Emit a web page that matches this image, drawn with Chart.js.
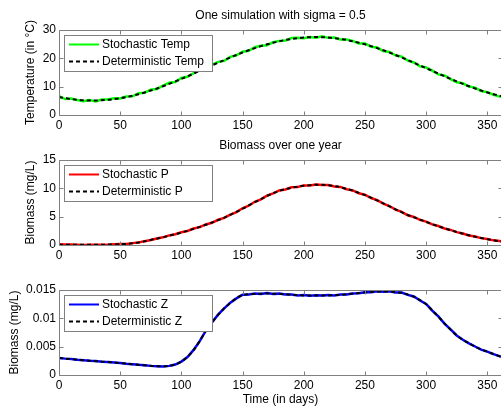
<!DOCTYPE html>
<html>
<head>
<meta charset="utf-8">
<script src="https://cdn.jsdelivr.net/npm/chart.js@4"></script>
<style>
  html, body { margin: 0; padding: 0; background: #fff; }
  body { width: 501px; height: 410px; overflow: hidden; position: relative; }
  canvas { position: absolute; left: 0; }
</style>
</head>
<body>
<canvas id="tempChart" width="505" height="140" style="top:0px"></canvas>
<canvas id="pChart" width="505" height="140" style="top:130px"></canvas>
<canvas id="zChart" width="505" height="150" style="top:260px"></canvas>
<script>
// days (every 5 days)
const days = [0,5,10,15,20,25,30,35,40,45,50,55,60,65,70,75,80,85,90,95,
  100,105,110,115,120,125,130,135,140,145,150,155,160,165,170,175,180,185,190,195,
  200,205,210,215,220,225,230,235,240,245,250,255,260,265,270,275,280,285,290,295,
  300,305,310,315,320,325,330,335,340,345,350,355,360,365];

const tempDet = [6.35,5.93,5.60,5.36,5.19,5.11,5.11,5.19,5.36,5.60,
  5.93,6.33,6.80,7.35,7.97,8.64,9.37,10.15,10.98,11.85,
  12.75,13.68,14.63,15.58,16.55,17.50,18.45,19.39,20.31,21.19,
  22.05,22.85,23.60,24.31,24.95,25.53,26.04,26.48,26.84,27.13,
  27.33,27.46,27.50,27.46,27.33,27.13,26.84,26.48,26.04,25.53,
  24.95,24.31,23.60,22.85,22.05,21.19,20.31,19.39,18.45,17.50,
  16.55,15.58,14.63,13.68,12.75,11.85,10.98,10.15,9.37,8.64,
  7.97,7.35,6.80,6.33];
const tempSto = [6.65,5.63,5.80,5.26,4.89,5.31,4.81,5.49,5.46,5.90,
  5.83,6.53,6.60,7.65,7.87,8.94,9.17,10.35,11.38,11.65,
  13.05,13.48,14.73,15.98,16.25,17.70,18.75,19.09,20.51,21.09,
  22.35,22.65,23.90,24.41,24.65,25.73,26.14,26.28,27.14,27.23,
  27.13,27.56,27.30,27.76,27.23,27.33,26.64,26.68,26.14,25.23,
  25.25,24.11,23.80,22.55,22.25,21.09,20.61,19.19,18.55,17.20,
  16.75,15.68,14.33,13.98,12.65,11.55,11.18,10.05,9.67,8.44,
  8.07,7.15,6.50,6.53];

const pDet = [0.05,0.04,0.03,0.03,0.03,0.03,0.04,0.05,0.07,0.10,
  0.14,0.20,0.30,0.45,0.65,0.90,1.12,1.38,1.65,1.92,
  2.20,2.52,2.85,3.20,3.57,3.97,4.38,4.82,5.30,5.85,
  6.40,6.98,7.55,8.10,8.65,9.15,9.55,9.85,10.10,10.30,
  10.45,10.55,10.62,10.62,10.55,10.40,10.18,9.90,9.58,9.20,
  8.80,8.35,7.85,7.35,6.82,6.30,5.80,5.30,4.90,4.48,
  4.08,3.68,3.30,2.95,2.62,2.30,2.00,1.72,1.47,1.24,
  1.03,0.84,0.66,0.52];
const pSto = [0.12,0.08,0.10,0.05,0.02,0.03,0.05,0.04,0.06,0.12,
  0.16,0.18,0.33,0.43,0.68,0.87,1.16,1.35,1.69,1.90,
  2.25,2.48,2.91,3.16,3.63,3.92,4.45,4.78,5.37,5.80,
  6.48,6.93,7.62,8.05,8.72,9.10,9.62,9.80,10.18,10.24,
  10.52,10.49,10.68,10.57,10.60,10.33,10.25,9.84,9.64,9.14,
  8.88,8.29,7.91,7.30,6.88,6.24,5.86,5.25,4.95,4.43,
  4.13,3.64,3.35,2.91,2.66,2.27,2.04,1.69,1.50,1.21,
  1.06,0.82,0.69,0.50];

const zDet = [0.00300,0.00290,0.00280,0.00270,0.00260,0.00252,0.00244,0.00236,0.00228,0.00220,
  0.00210,0.00200,0.00190,0.00180,0.00170,0.00162,0.00155,0.00153,0.00160,0.00185,
  0.00235,0.00320,0.00440,0.00600,0.00780,0.00930,0.01060,0.01180,0.01270,0.01360,
  0.01410,0.01425,0.01430,0.01435,0.01440,0.01435,0.01430,0.01425,0.01415,0.01410,
  0.01405,0.01405,0.01405,0.01405,0.01405,0.01410,0.01415,0.01425,0.01435,0.01445,
  0.01455,0.01465,0.01470,0.01475,0.01470,0.01460,0.01450,0.01420,0.01380,0.01320,
  0.01250,0.01140,0.01030,0.00910,0.00800,0.00700,0.00620,0.00560,0.00500,0.00450,
  0.00410,0.00370,0.00330,0.00300];
const zSto = [0.00302,0.00289,0.00281,0.00268,0.00261,0.00251,0.00245,0.00235,0.00229,0.00219,
  0.00211,0.00199,0.00191,0.00179,0.00171,0.00161,0.00156,0.00152,0.00161,0.00184,
  0.00237,0.00318,0.00443,0.00597,0.00784,0.00926,0.01065,0.01175,0.01276,0.01352,
  0.01418,0.01419,0.01438,0.01428,0.01446,0.01431,0.01436,0.01419,0.01421,0.01404,
  0.01411,0.01399,0.01409,0.01401,0.01411,0.01404,0.01421,0.01419,0.01440,0.01441,
  0.01461,0.01459,0.01476,0.01470,0.01477,0.01455,0.01455,0.01414,0.01385,0.01315,
  0.01255,0.01136,0.01034,0.00906,0.00804,0.00697,0.00623,0.00557,0.00503,0.00448,
  0.00412,0.00368,0.00332,0.00298];

const xTicks = [0,50,100,150,200,250,300,350];
const tempTicks = [0,10,20,30];
const pTicks = [0,5,10,15];
const zTicks = [0,0.005,0.01,0.015];
const zTickLabels = ['0','0.005','0.01','0.015'];

const FONT = "'Liberation Sans', Arial, Helvetica, sans-serif";
const AXIS_COLOR = '#808080';

// box around the axes with inward ticks, MATLAB style
const frame = {
  id: 'frame',
  afterDatasetsDraw(chart) {
    const {ctx, chartArea: a, scales} = chart;
    const L = Math.round(a.left) + 0.5, T = Math.round(a.top) + 0.5;
    const R = Math.round(a.right) + 0.5, B = Math.round(a.bottom) + 0.5;
    ctx.save();
    ctx.strokeStyle = AXIS_COLOR;
    ctx.lineWidth = 1;
    ctx.beginPath();
    ctx.rect(L, T, R - L, B - T);
    scales.x.ticks.forEach(t => {
      const px = Math.round(scales.x.getPixelForValue(t.value)) + 0.5;
      ctx.moveTo(px, T); ctx.lineTo(px, T + 4);
      ctx.moveTo(px, B); ctx.lineTo(px, B - 4);
    });
    scales.y.ticks.forEach(t => {
      const py = Math.round(scales.y.getPixelForValue(t.value)) + 0.5;
      ctx.moveTo(L, py); ctx.lineTo(L + 4, py);
      ctx.moveTo(R, py); ctx.lineTo(R - 4, py);
    });
    ctx.stroke();
    ctx.restore();
  }
};

// legend box inside the upper left of the axes
const insideLegend = {
  id: 'insideLegend',
  afterDraw(chart) {
    const {ctx, chartArea: a} = chart;
    const x = Math.round(a.left) + 5, y = Math.round(a.top) + 5, w = 148, h = 36;
    ctx.save();
    ctx.fillStyle = '#fff';
    ctx.fillRect(x, y, w, h);
    ctx.strokeStyle = AXIS_COLOR;
    ctx.lineWidth = 1;
    ctx.strokeRect(x + 0.5, y + 0.5, w, h);
    chart.data.datasets.forEach((ds, i) => {
      const ly = y + 9.5 + i * 17;
      ctx.beginPath();
      ctx.setLineDash(ds.borderDash || []);
      ctx.strokeStyle = ds.borderColor;
      ctx.lineWidth = 2;
      ctx.moveTo(x + 5, ly);
      ctx.lineTo(x + 35, ly);
      ctx.stroke();
      ctx.setLineDash([]);
      ctx.fillStyle = '#000';
      ctx.font = '12px ' + FONT;
      ctx.textBaseline = 'middle';
      ctx.fillText(ds.label, x + 38, ly);
    });
    ctx.restore();
  }
};

function makeChart(id, cfg) {
  const pts = arr => arr.map((v, i) => ({x: days[i], y: v}));
  return new Chart(document.getElementById(id), {
    type: 'line',
    data: {
      datasets: [
        {label: cfg.stoLabel, data: pts(cfg.sto), borderColor: cfg.color, borderWidth: 2.5,
         pointRadius: 0, order: 2},
        {label: cfg.detLabel, data: pts(cfg.det), borderColor: '#000', borderWidth: 2,
         borderDash: [4, 3], pointRadius: 0, order: 1, cubicInterpolationMode: 'monotone'}
      ]
    },
    options: {
      responsive: false,
      animation: false,
      layout: {padding: {left: 0, right: 3, top: cfg.title ? 0 : 30, bottom: 0}},
      plugins: {
        legend: {display: false},
        tooltip: {enabled: false},
        title: {
          display: !!cfg.title, text: cfg.title || '', fullSize: false, color: '#000',
          font: {family: FONT, size: 12, weight: 'normal'},
          padding: {top: 8, bottom: 7.6}
        }
      },
      scales: {
        x: {
          type: 'linear', min: 0, max: 362,
          grid: {display: false, drawTicks: false}, border: {display: false},
          afterBuildTicks: s => { s.ticks = xTicks.map(v => ({value: v})); },
          afterFit: s => { s.height = cfg.xHeight; },
          ticks: {color: '#000', font: {family: FONT, size: 12}, padding: 3, maxRotation: 0},
          title: {display: !!cfg.xTitle, text: cfg.xTitle || '', color: '#000',
                  font: {family: FONT, size: 12}, padding: {top: 0, bottom: 3}}
        },
        y: {
          min: cfg.yTicks[0], max: cfg.yTicks[cfg.yTicks.length - 1],
          grid: {display: false, drawTicks: false}, border: {display: false},
          afterBuildTicks: s => { s.ticks = cfg.yTicks.map(v => ({value: v})); },
          afterFit: s => { s.width = 59; },
          ticks: {color: '#000', font: {family: FONT, size: 12}, padding: 3,
                  callback: (v, i) => cfg.yLabels ? cfg.yLabels[i] : String(v)},
          title: {display: true, text: cfg.yTitle, color: '#000',
                  font: {family: FONT, size: 12}, padding: {top: cfg.yTitlePad, bottom: 0}}
        }
      }
    },
    plugins: [frame, insideLegend]
  });
}

makeChart('tempChart', {
  title: 'One simulation with sigma = 0.5', yTitle: 'Temperature (in °C)', yTitlePad: 23,
  sto: tempSto, det: tempDet, color: '#00ff00',
  stoLabel: 'Stochastic Temp', detLabel: 'Deterministic Temp',
  yTicks: tempTicks, xHeight: 25
});
makeChart('pChart', {
  title: 'Biomass over one year', yTitle: 'Biomass (mg/L)', yTitlePad: 23,
  sto: pSto, det: pDet, color: '#ff0000',
  stoLabel: 'Stochastic P', detLabel: 'Deterministic P',
  yTicks: pTicks, xHeight: 25
});
makeChart('zChart', {
  yTitle: 'Biomass (mg/L)', yTitlePad: 7, xTitle: 'Time (in days)',
  sto: zSto, det: zDet, color: '#0000ff',
  stoLabel: 'Stochastic Z', detLabel: 'Deterministic Z',
  yTicks: zTicks, yLabels: zTickLabels, xHeight: 35
});
</script>
</body>
</html>
